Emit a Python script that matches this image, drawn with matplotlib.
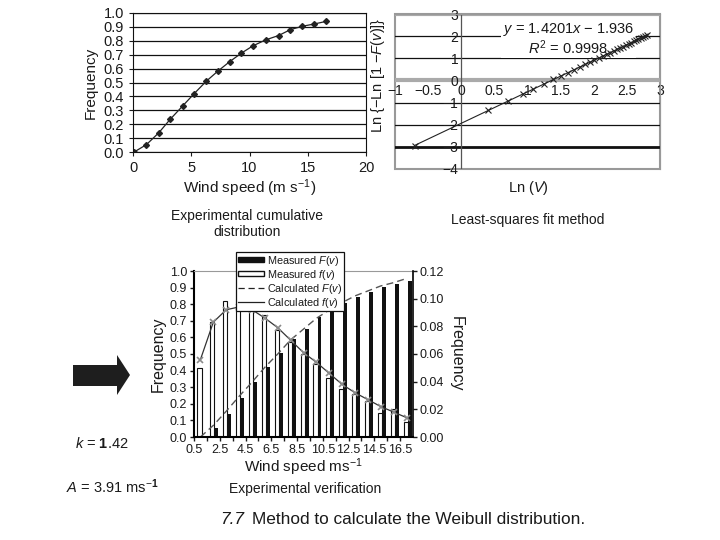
import matplotlib
matplotlib.use('Agg')
import matplotlib.pyplot as plt
import numpy as np
from matplotlib.patches import Patch, Polygon, Rectangle
from matplotlib.lines import Line2D

plt.rcParams['font.family'] = ['Liberation Sans', 'DejaVu Sans']
plt.rcParams['mathtext.fontset'] = 'custom'
plt.rcParams['mathtext.rm'] = 'Liberation Sans'
plt.rcParams['mathtext.it'] = 'Liberation Sans:italic'
plt.rcParams['mathtext.bf'] = 'Liberation Sans:bold'
plt.rcParams['text.color'] = '#1a1a1a'
plt.rcParams['axes.labelcolor'] = '#1a1a1a'
plt.rcParams['xtick.color'] = '#1a1a1a'
plt.rcParams['ytick.color'] = '#1a1a1a'

# ---- data: experimental cumulative distribution (top left)
cum_speed = [0.1, 1.15, 2.2, 3.2, 4.25, 5.25, 6.3, 7.3, 8.3, 9.3, 10.3, 11.4, 12.5, 13.5, 14.5, 15.5, 16.6]
cum_freq = [0.0, 0.053, 0.137, 0.236, 0.33, 0.42, 0.51, 0.583, 0.65, 0.711, 0.764, 0.807, 0.838, 0.88, 0.904, 0.92, 0.94]

# ---- data: least-squares fit (top right)
ln_v = [-0.70, 0.41, 0.70, 0.93, 1.08, 1.25, 1.39, 1.50, 1.61, 1.70, 1.79, 1.87, 1.95, 2.01, 2.08, 2.14,
        2.20, 2.25, 2.30, 2.35, 2.40, 2.44, 2.48, 2.53, 2.56, 2.60, 2.64, 2.67, 2.71, 2.74, 2.77, 2.80]
ln_ln = [-2.96, -1.32, -0.93, -0.60, -0.40, -0.15, 0.05, 0.20, 0.34, 0.48, 0.61, 0.72, 0.83, 0.93, 1.01, 1.10,
         1.19, 1.26, 1.33, 1.40, 1.47, 1.53, 1.59, 1.66, 1.70, 1.76, 1.81, 1.86, 1.91, 1.95, 2.00, 2.05]
fit_slope = 1.4201
fit_icept = -1.936

# ---- data: experimental verification (bottom)
bins = ['0.5', '1.5', '2.5', '3.5', '4.5', '5.5', '6.5', '7.5', '8.5', '9.5', '10.5', '11.5', '12.5',
        '13.5', '14.5', '15.5', '16.5']
meas_F = [0.004, 0.053, 0.137, 0.236, 0.33, 0.42, 0.505, 0.59, 0.65, 0.72, 0.77, 0.81, 0.845, 0.875, 0.905, 0.92, 0.94]
meas_f = [0.050, 0.083, 0.098, 0.095, 0.094, 0.088, 0.077, 0.069, 0.060, 0.053, 0.043, 0.035, 0.031,
          0.026, 0.017, 0.020, 0.011]
calc_F = [0.0, 0.07, 0.155, 0.245, 0.33, 0.42, 0.50, 0.585, 0.65, 0.715, 0.765, 0.81, 0.85, 0.88, 0.91, 0.93, 0.955]
calc_f = [0.056, 0.083, 0.092, 0.094, 0.092, 0.086, 0.079, 0.070, 0.061, 0.054, 0.046, 0.038, 0.032,
          0.027, 0.022, 0.018, 0.014]

W, H = 720, 540
fig = plt.figure(figsize=(7.2, 5.4), dpi=100)


def rect(l, t, r, b):
    # pixel box -> figure fraction
    return [l / W, 1 - b / H, (r - l) / W, (b - t) / H]


# ---------------- top left
ax1 = fig.add_axes(rect(133, 13, 366, 152))
ax1.plot(cum_speed, cum_freq, color='#222222', lw=0.9, marker='D', ms=3)
ax1.set_xlim(0, 20)
ax1.set_ylim(0, 1.0)
ax1.set_xticks(range(0, 21, 5))
ax1.set_yticks(np.arange(0, 1.01, 0.1))
ax1.set_yticklabels(['%.1f' % v for v in np.arange(0, 1.01, 0.1)])
ax1.grid(axis='y', color='#111111', lw=0.9)
ax1.tick_params(labelsize=10.5, length=3, width=0.8)
for s in ax1.spines.values():
    s.set_color('#111111')
ax1.set_xlabel('Wind speed (m s$^{-1}$)', fontsize=11, labelpad=2)
ax1.set_ylabel('Frequency', fontsize=11, labelpad=4)

# ---------------- top right
ax2 = fig.add_axes(rect(395, 14, 660, 169))
ax2.set_xlim(-1, 3)
ax2.set_ylim(-4, 3)
grid_styles = {2: ('#111111', 0.9), 1: ('#111111', 0.9), 0: ('#aaaaaa', 3.0), -1: ('#111111', 0.9),
               -2: ('#111111', 0.9), -3: ('#111111', 2.0), 3: ('#aaaaaa', 3.0)}
for yv, (c, lw) in grid_styles.items():
    ax2.axhline(yv, color=c, lw=lw, zorder=1)
ax2.axvline(0, color='#555555', lw=0.9, zorder=1)
xs = np.array([min(ln_v), max(ln_v)])
ax2.plot(xs, fit_slope * xs + fit_icept, color='#222222', lw=0.8, zorder=3)
ax2.plot(ln_v, ln_ln, ls='none', marker='x', ms=4.5, mew=0.8, color='#222222', zorder=4)
for s in ['top', 'right']:
    ax2.spines[s].set_color('#999999')
ax2.spines['left'].set_position(('data', 0))
ax2.spines['bottom'].set_position(('data', 0))
ax2.spines['left'].set_visible(False)
ax2.spines['bottom'].set_visible(False)
ax2.add_patch(Rectangle((0, 0), 1, 1, transform=ax2.transAxes, fill=False, edgecolor='#999999',
                        lw=1.5, zorder=0.5, clip_on=False))
ax2.set_xticks([-1, -0.5, 0, 0.5, 1, 1.5, 2, 2.5, 3])
ax2.set_xticklabels(['\u22121', '\u22120.5', '0', '0.5', '1', '1.5', '2', '2.5', '3'])
ax2.set_yticks(range(-4, 4))
ax2.set_yticklabels(['\u22124', '\u22123', '\u22122', '\u22121', '0', '1', '2', '3'])
ax2.tick_params(labelsize=10, length=0)
ax2.tick_params(axis='x', pad=2.5)
ax2.tick_params(axis='y', pad=2)
ax2.text(0.655, 0.955, '$y$ = 1.4201$x$ \u2212 1.936\n$R^2$ = 0.9998', transform=ax2.transAxes,
         ha='center', va='top', fontsize=10.5, linespacing=1.0, zorder=2,
         bbox=dict(facecolor='white', edgecolor='none', pad=1.0))

# ---------------- bottom
rb = rect(194, 271, 413, 437)
axw = fig.add_axes(rb)
axb = fig.add_axes(rb)
axf = fig.add_axes(rb)
pos = np.arange(len(bins))
axw.bar(pos + 0.27, meas_f, width=0.32, align='edge', facecolor='white', edgecolor='#111111', lw=0.8)
axw.set_ylim(0, 0.12)
axw.set_xlim(0, len(bins))
axw.axis('off')

axb.patch.set_visible(False)
axb.bar(pos + 0.59, meas_F, width=0.3, align='edge', color='#111111', lw=0)
axb.plot(pos + 0.5, calc_F, ls=(0, (5, 3)), color='#555555', lw=1.0)
axb.set_xlim(0, len(bins))
axb.set_ylim(0, 1.0)
axb.set_yticks(np.arange(0, 1.01, 0.1))
axb.set_yticklabels(['%.1f' % v for v in np.arange(0, 1.01, 0.1)])
axb.set_xticks(pos[::2])
axb.set_xticklabels(bins[::2])
axb.set_xticks(pos, minor=True)
axb.tick_params(labelsize=9, length=3, width=1.0, pad=2)
axb.tick_params(axis='x', which='minor', length=3, width=1.0)
axb.spines['right'].set_visible(False)
axb.spines['top'].set_color('#999999')
axb.spines['left'].set_linewidth(1.5)
axb.spines['bottom'].set_linewidth(1.5)
axb.set_ylabel('Frequency', fontsize=11.5, labelpad=3)
axb.set_xlabel('Wind speed ms$^{-1}$', fontsize=11, labelpad=0)

axf.patch.set_visible(False)
axf.plot(pos + 0.5, calc_f, color='#333333', lw=0.9, marker='x', ms=4.5, mew=1.2, mec='#8a8a8a')
axf.set_xlim(0, len(bins))
axf.set_ylim(0, 0.12)
axf.yaxis.tick_right()
axf.yaxis.set_label_position('right')
axf.set_yticks(np.arange(0, 0.121, 0.02))
axf.set_yticklabels(['%.2f' % v for v in np.arange(0, 0.121, 0.02)])
axf.set_xticks([])
axf.tick_params(labelsize=9, length=3, width=1.0, pad=2)
for s in ['left', 'top', 'bottom']:
    axf.spines[s].set_visible(False)
axf.spines['right'].set_linewidth(1.2)
axf.set_ylabel('Frequency', fontsize=11.5, rotation=270, labelpad=14)

handles = [Patch(facecolor='#111111', edgecolor='#111111'),
           Patch(facecolor='white', edgecolor='#111111'),
           Line2D([], [], color='#222222', ls=(0, (5, 3)), lw=0.9),
           Line2D([], [], color='#222222', lw=0.9)]
labels = ['Measured $F$($v$)', 'Measured $f$($v$)', 'Calculated $F$($v$)', 'Calculated $f$($v$)']
leg = fig.legend(handles, labels, loc='upper left', bbox_to_anchor=(236 / W, 1 - 252 / H),
                 fontsize=7.8, frameon=True, fancybox=False, edgecolor='#111111', framealpha=1,
                 handlelength=2.4, handleheight=0.4, handletextpad=0.3, labelspacing=0.0,
                 borderpad=0.15, borderaxespad=0)
leg.get_frame().set_linewidth(0.9)
leg.set_zorder(20)

# ---------------- captions and notes
ov = fig.add_axes([0, 0, 1, 1])
ov.set_xlim(0, W)
ov.set_ylim(H, 0)
ov.axis('off')
ov.patch.set_visible(False)
ov.add_patch(Polygon([[73, 365], [117, 365], [117, 355], [130, 375], [117, 395], [117, 386], [73, 386]],
                     closed=True, facecolor='#1e1e1e', edgecolor='none'))
ov.text(247, 224, 'Experimental cumulative\ndistribution', ha='center', va='center', fontsize=10,
        linespacing=1.15)
ov.text(528, 220, 'Least-squares fit method', ha='center', va='center', fontsize=10)
ov.text(528, 188, 'Ln ($V$)', ha='center', va='center', fontsize=10.5)
ov.text(378, 75, 'Ln {\u2212Ln [1 \u2212$F$($v$)]}', ha='center', va='center', fontsize=10.5, rotation=90)
ov.text(305, 489, 'Experimental verification', ha='center', va='center', fontsize=10)
ov.text(102, 444, '$k$ = $\\mathbf{1}$.42', ha='center', va='center', fontsize=10.5)
ov.text(112, 487, '$A$ = 3.91 ms$^{-\\mathbf{1}}$', ha='center', va='center', fontsize=10.5)
ov.text(220, 519, '7.7', ha='left', va='center', fontsize=12.4, fontstyle='italic')
ov.text(252, 519, 'Method to calculate the Weibull distribution.', ha='left', va='center', fontsize=12.4)

fig.savefig('out.png', dpi=100)
